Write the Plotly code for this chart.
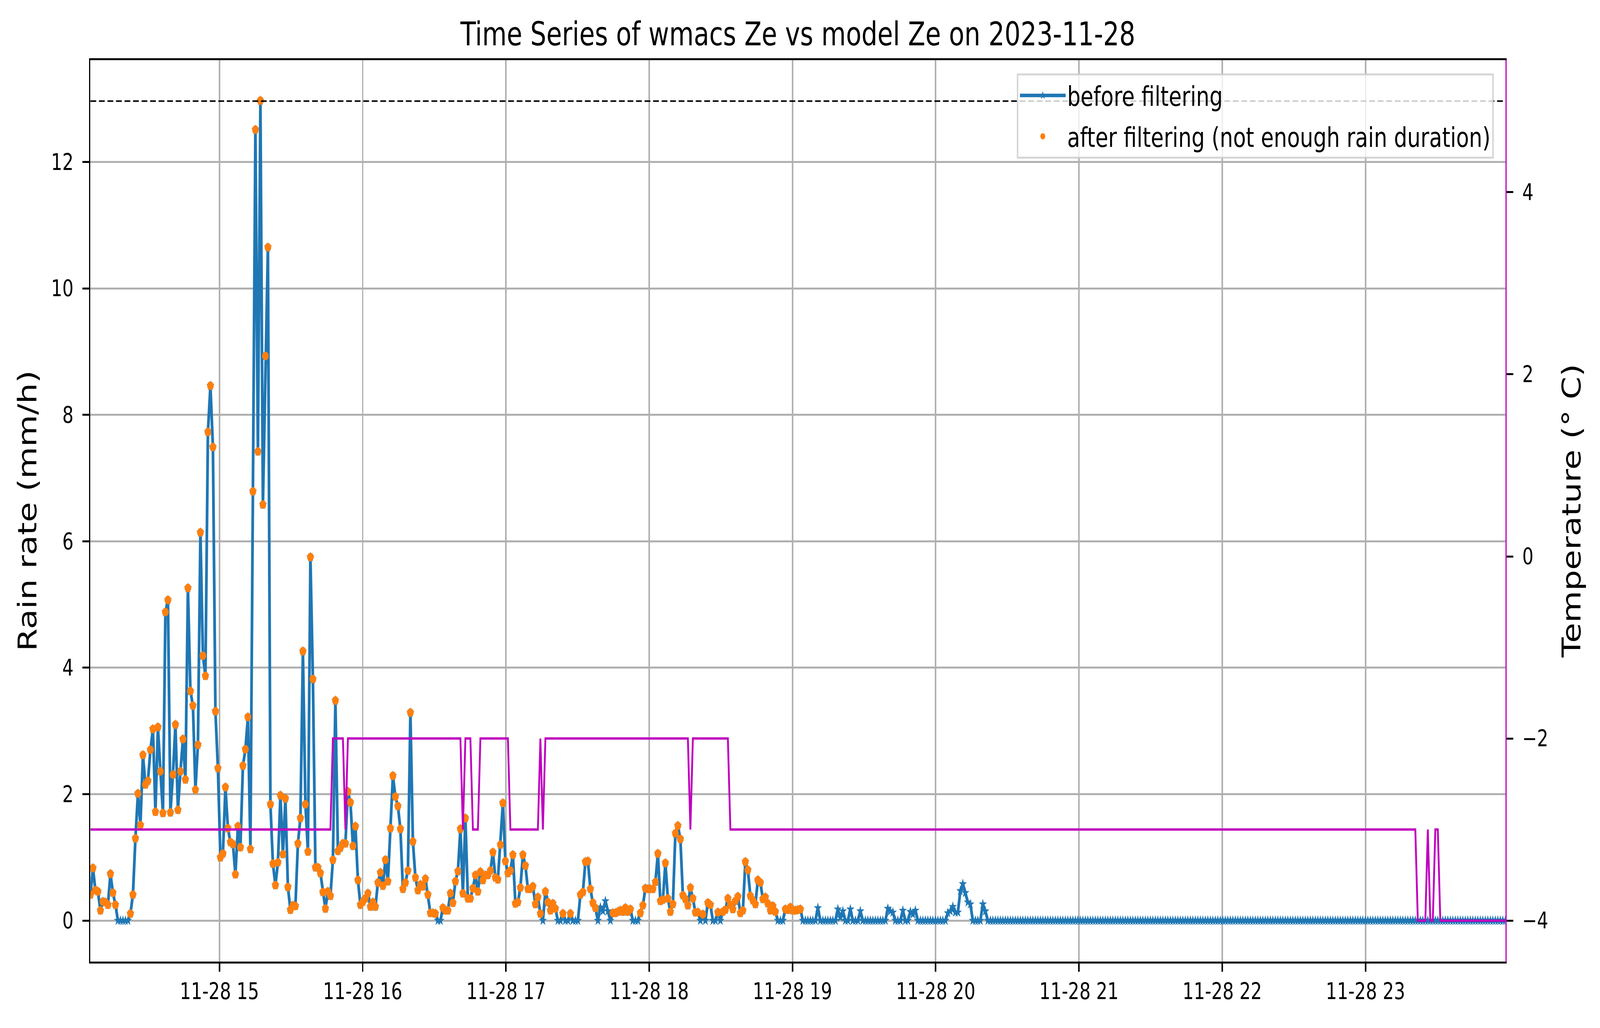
import numpy as np
import pandas as pd
import plotly.graph_objects as go

# rain rate (mm/h), one value per sample, 14:06 -> 19:04
rain_head = [
    0.41, 0.83, 0.48, 0.46, 0.16, 0.30, 0.29, 0.25, 0.74, 0.44,
    0.25, 0, 0, 0, 0, 0, 0.11, 0.41, 1.30, 2.01,
    1.51, 2.62, 2.15, 2.21, 2.70, 3.03, 1.72, 3.06, 2.36, 1.70,
    4.88, 5.07, 1.71, 2.31, 3.10, 1.75, 2.36, 2.87, 2.23, 5.26,
    3.63, 3.40, 2.07, 2.78, 6.14, 4.19, 3.87, 7.73, 8.46, 7.49,
    3.31, 2.41, 1.00, 1.06, 2.11, 1.46, 1.24, 1.21, 0.73, 1.49,
    1.16, 2.45, 2.71, 3.22, 1.13, 6.79, 12.51, 7.42, 12.97, 6.58,
    8.93, 10.65, 1.84, 0.90, 0.56, 0.92, 1.98, 1.05, 1.93, 0.53,
    0.17, 0.24, 0.23, 1.22, 1.62, 4.26, 1.84, 1.09, 5.75, 3.82,
    0.84, 0.84, 0.75, 0.45, 0.19, 0.46, 0.39, 0.96, 3.48, 1.10,
    1.15, 1.22, 1.22, 2.04, 1.87, 1.18, 1.49, 0.64, 0.25, 0.30,
    0.35, 0.43, 0.22, 0.29, 0.22, 0.60, 0.76, 0.55, 0.96, 0.62,
    1.46, 2.29, 1.96, 1.81, 1.45, 0.50, 0.60, 0.79, 3.29, 1.25,
    0.68, 0.48, 0.57, 0.54, 0.66, 0.41, 0.12, 0.12, 0.11, 0,
    0, 0.20, 0.16, 0.16, 0.43, 0.28, 0.62, 0.78, 1.45, 0.43,
    1.62, 0.35, 0.35, 0.51, 0.72, 0.46, 0.77, 0.64, 0.72, 0.72,
    0.79, 1.08, 0.68, 0.65, 1.20, 1.86, 0.94, 0.75, 0.79, 1.04,
    0.27, 0.29, 0.52, 1.04, 0.87, 0.50, 0.50, 0.54, 0.26, 0.37,
    0.11, 0, 0.46, 0.29, 0.16, 0.27, 0.19, 0, 0, 0.11,
    0, 0, 0.11, 0, 0, 0, 0.41, 0.45, 0.93, 0.94,
    0.50, 0.28, 0.20, 0, 0.21, 0.15, 0.31, 0.15, 0, 0.12,
    0.12, 0.14, 0.16, 0.14, 0.20, 0.14, 0.18, 0, 0, 0,
    0.12, 0.24, 0.51, 0.50, 0.50, 0.50, 0.61, 1.06, 0.31, 0.33,
    0.91, 0.35, 0.14, 0.26, 1.38, 1.50, 1.29, 0.40, 0.34, 0.24,
    0.52, 0.35, 0.13, 0.13, 0, 0.10, 0, 0.28, 0.25, 0,
    0, 0.13, 0, 0.14, 0.17, 0.35, 0.25, 0.18, 0.31, 0.38,
    0.12, 0.16, 0.93, 0.80, 0.39, 0.32, 0.26, 0.64, 0.60, 0.34,
    0.37, 0.27, 0.16, 0.23, 0.14, 0, 0, 0, 0.18, 0.17,
    0.21, 0.16, 0.16, 0.17, 0.18,
]
# after 19:04 the rain is zero apart from these samples
rain_tail_bumps = {
    291: 0.20, 299: 0.18, 300: 0.05, 301: 0.15, 304: 0.18, 308: 0.15,
    319: 0.19, 320: 0.15, 321: 0.13, 325: 0.16, 328: 0.14, 329: 0.10,
    330: 0.16, 343: 0.12, 344: 0.15, 345: 0.22, 346: 0.13, 347: 0.13,
    348: 0.47, 349: 0.58, 350: 0.44, 351: 0.29, 352: 0.26, 357: 0.26,
    358: 0.15,
}
n_samples = 567
# samples removed by the rain-duration filter (besides zeros)
filtered_out = [(204, 208), (285, 566)]

# temperature (deg C) as (value, number of samples)
temp_runs = [(-3, 97), (-2, 5), (-3, 1), (-2, 46), (-3, 1), (-2, 3), (-3, 3),
             (-2, 12), (-3, 12), (-2, 1), (-3, 1), (-2, 58), (-3, 1), (-2, 15),
             (-3, 275), (-4, 4), (-3, 1), (-4, 2), (-3, 2), (-4, 27)]
temp_threshold = 5

times = pd.date_range("2023-11-28 14:05:58", "2023-11-28 23:58:34", periods=n_samples)

rain = np.zeros(n_samples)
rain[:len(rain_head)] = rain_head
for i, v in rain_tail_bumps.items():
    rain[i] = v

rain_after = rain.copy()
rain_after[rain_after == 0] = np.nan
for a, b in filtered_out:
    rain_after[a:b + 1] = np.nan

temp = np.concatenate([[v] * n for v, n in temp_runs])

W, H = 5255, 2631
font = "DejaVu Sans"
fig = go.Figure()
fig.add_trace(go.Scatter(x=times, y=rain, mode="lines+markers", name="before filtering",
                         legendgroup="a",
                         line=dict(color="#1f77b4", width=9),
                         marker=dict(symbol="star", size=20, color="#1f77b4", line=dict(width=0))))
fig.add_trace(go.Scatter(x=times, y=rain_after, mode="markers",
                         name="after filtering (not enough rain duration)", legendgroup="b",
                         marker=dict(symbol="circle", size=22, color="#ff7f0e", line=dict(width=0))))
fig.add_trace(go.Scatter(x=times, y=temp, mode="lines", yaxis="y2", showlegend=False,
                         line=dict(color="#bf00bf", width=6)))

fig.add_shape(type="line", xref="paper", x0=0, x1=1, yref="y2", y0=temp_threshold, y1=temp_threshold,
              line=dict(color="black", width=4, dash="19px,9px"), layer="above")

axis_common = dict(ticks="outside", ticklen=21, tickwidth=5, tickcolor="black",
                   tickfont=dict(family=font, size=58, color="black"))

fig.update_layout(
    width=W, height=H,
    margin=dict(l=297, r=311, t=154, b=170),
    paper_bgcolor="white", plot_bgcolor="white",
    font=dict(family=font, color="black"),
    title=dict(text="Time Series of wmacs Ze vs model Ze on 2023-11-28",
               font=dict(family=font, size=83, color="black"),
               x=0.5, xref="paper", xanchor="center", y=1 - 87 / H, yref="container",
               yanchor="middle"),
    xaxis=dict(type="date", range=[times[0], times[-1]], tickformat="%m-%d %H",
               dtick=3600000, tick0="2023-11-28 15:00",
               showgrid=True, gridcolor="#b0b0b0", gridwidth=5,
               showline=True, linecolor="black", linewidth=5, mirror=True, zeroline=False,
               ticklabelstandoff=0, **axis_common),
    yaxis=dict(range=[-0.648, 13.61], dtick=2, tick0=0,
               showgrid=True, gridcolor="#b0b0b0", gridwidth=5, zeroline=False,
               showline=True, linecolor="black", linewidth=5, ticklabelstandoff=18,
               **axis_common),
    yaxis2=dict(overlaying="y", side="right", range=[-4.45, 5.45], dtick=2, tick0=0,
                showgrid=False, zeroline=False, ticklabelstandoff=18,
                showline=True, linecolor="#bf00bf", linewidth=5, **axis_common),
    legend=dict(x=0.9918, y=0.9853, xanchor="right", yanchor="top",
                bgcolor="rgba(255,255,255,0.8)", bordercolor="rgba(204,204,204,0.8)",
                borderwidth=5, font=dict(family=font, size=69, color="black"),
                itemwidth=150, tracegroupgap=12),
    showlegend=True,
    annotations=[
        dict(text="Rain rate (mm/h)", xref="paper", yref="paper", x=-0.0445, y=0.5,
             textangle=-90, showarrow=False, font=dict(family=font, size=84, color="black"),
             xanchor="center", yanchor="middle"),
        dict(text="Temperature (° C)", xref="paper", yref="paper", x=1.0467, y=0.5,
             textangle=-90, showarrow=False, font=dict(family=font, size=84, color="black"),
             xanchor="center", yanchor="middle"),
    ],
)

# the browser caps the window width, so stretch the fixed-size figure over the whole window
fit_js = (
    "var gd = document.getElementById('{plot_id}');"
    "var sx = window.innerWidth / %d, sy = window.innerHeight / %d;"
    "document.documentElement.style.overflow = 'hidden';"
    "document.body.style.margin = '0';"
    "document.body.style.overflow = 'hidden';"
    "gd.parentElement.style.height = window.innerHeight + 'px';"
    "gd.parentElement.style.overflow = 'hidden';"
    "gd.style.transformOrigin = '0 0';"
    "gd.style.transform = 'scale(' + sx + ',' + sy + ')';" % (W, H)
)

fig.write_html("out.html", post_script=fit_js, config={"displayModeBar": False})
